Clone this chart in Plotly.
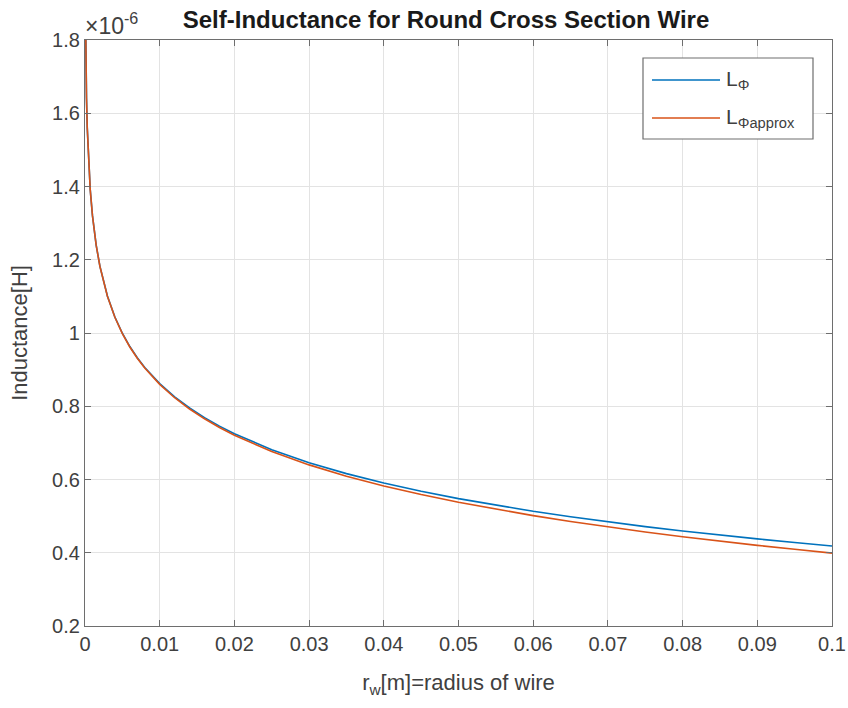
import plotly.graph_objects as go

# radius of wire [m]
r_w = [0.00005, 0.0001, 0.0002, 0.0003, 0.0005, 0.0007, 0.001, 0.0015, 0.002,
       0.003, 0.004, 0.005, 0.006, 0.007, 0.008, 0.009, 0.01, 0.012, 0.014,
       0.016, 0.018, 0.02, 0.025, 0.03, 0.035, 0.04, 0.045, 0.05, 0.055, 0.06,
       0.065, 0.07, 0.075, 0.08, 0.085, 0.09, 0.095, 0.1]

# inductance in units of 1e-6 H
L_phi = [1.9193, 1.7807, 1.6421, 1.5611, 1.4589, 1.3916, 1.3204, 1.2394, 1.1820,
         1.1011, 1.0437, 0.9993, 0.9630, 0.9324, 0.9059, 0.8825, 0.8617, 0.8256,
         0.7952, 0.7689, 0.7457, 0.7250, 0.6814, 0.6459, 0.6160, 0.5903, 0.5677,
         0.5477, 0.5295, 0.5131, 0.4981, 0.4843, 0.4714, 0.4595, 0.4482, 0.4378,
         0.4279, 0.4186]

L_phi_approx = [1.9193, 1.7807, 1.6421, 1.5610, 1.4588, 1.3915, 1.3202, 1.2391, 1.1816,
                1.1005, 1.0429, 0.9983, 0.9618, 0.9310, 0.9043, 0.8807, 0.8597, 0.8232,
                0.7924, 0.7657, 0.7421, 0.7210, 0.6764, 0.6399, 0.6091, 0.5824, 0.5588,
                0.5378, 0.5187, 0.5013, 0.4853, 0.4705, 0.4567, 0.4438, 0.4316, 0.4202,
                0.4094, 0.3991]

x_ticks = [0, 0.01, 0.02, 0.03, 0.04, 0.05, 0.06, 0.07, 0.08, 0.09, 0.1]
x_ticklabels = ["0", "0.01", "0.02", "0.03", "0.04", "0.05", "0.06", "0.07", "0.08", "0.09", "0.1"]
y_ticks = [0.2, 0.4, 0.6, 0.8, 1.0, 1.2, 1.4, 1.6, 1.8]
y_ticklabels = ["0.2", "0.4", "0.6", "0.8", "1", "1.2", "1.4", "1.6", "1.8"]

BLUE = "#0072BD"
ORANGE = "#D95319"
FONT = "Liberation Sans, Arial, sans-serif"
TXT = "#404040"
AX = "#6e6e6e"

fig = go.Figure()
fig.add_trace(go.Scatter(x=r_w, y=L_phi, mode="lines", line=dict(color=BLUE, width=1.6),
                         name="L<sub>Φ</sub>", showlegend=False))
fig.add_trace(go.Scatter(x=r_w, y=L_phi_approx, mode="lines", line=dict(color=ORANGE, width=1.6),
                         name="L<sub>Φapprox</sub>", showlegend=False))

W, H = 848, 708
ml, mr, mt, mb = 85, 16, 40, 82
pw, ph = W - ml - mr, H - mt - mb

def px(xp):
    return (xp - ml) / pw

def py(yp):
    return 1 - (yp - mt) / ph

axis_common = dict(showline=True, linecolor=AX, linewidth=1.2, mirror="ticks",
                   ticks="inside", ticklen=6, tickcolor=AX, tickwidth=1,
                   showgrid=True, gridcolor="#e3e3e3", gridwidth=1, zeroline=False,
                   automargin=False,
                   tickfont=dict(family=FONT, size=20, color=TXT))

fig.update_xaxes(range=[0, 0.1], tickvals=x_ticks, ticktext=x_ticklabels,
                 title=dict(text="r<sub>w</sub>[m]=radius of wire",
                            font=dict(family=FONT, size=22, color=TXT), standoff=20),
                 **axis_common)
fig.update_yaxes(range=[0.2, 1.8], tickvals=y_ticks, ticktext=y_ticklabels,
                 title=dict(text="Inductance[H]",
                            font=dict(family=FONT, size=22, color=TXT), standoff=18),
                 **axis_common)

fig.update_layout(
    width=W, height=H,
    margin=dict(l=ml, r=mr, t=mt, b=mb),
    paper_bgcolor="white", plot_bgcolor="white",
    title=dict(text="<b>Self-Inductance for Round Cross Section Wire</b>",
               font=dict(family=FONT, size=24, color="#1a1a1a"),
               x=446 / W, xanchor="center", y=1 - 20 / H, yanchor="middle",
               automargin=False),
    showlegend=False,
)

# exponent label
fig.add_annotation(x=px(83), y=py(41), xref="paper", yref="paper", xanchor="left", yanchor="bottom",
                   text="×10<sup>-6</sup>", showarrow=False,
                   font=dict(family=FONT, size=23, color=TXT))

# custom legend
fig.add_shape(type="rect", xref="paper", yref="paper",
              x0=px(643), x1=px(813), y0=py(139), y1=py(58),
              line=dict(color=AX, width=1.2), fillcolor="white")
for yy, col, lab in [(80, BLUE, "L<sub>Φ</sub>"), (118, ORANGE, "L<sub>Φapprox</sub>")]:
    fig.add_shape(type="line", xref="paper", yref="paper",
                  x0=px(652), x1=px(720), y0=py(yy), y1=py(yy),
                  line=dict(color=col, width=1.6))
    fig.add_annotation(x=px(724), y=py(yy), xref="paper", yref="paper",
                       xanchor="left", yanchor="middle", text=lab, showarrow=False,
                       font=dict(family=FONT, size=21, color=TXT))

fig.write_html("out.html")
